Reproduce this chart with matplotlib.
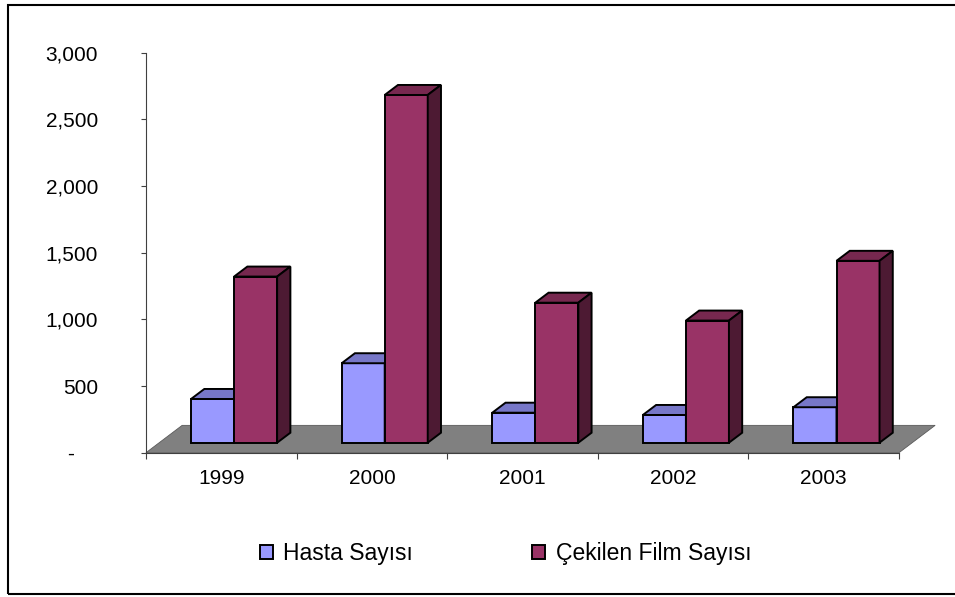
import matplotlib
matplotlib.use('Agg')
import matplotlib.pyplot as plt
from matplotlib.patches import Polygon, Patch, Rectangle
from matplotlib.ticker import FuncFormatter
from matplotlib.transforms import ScaledTranslation
import numpy as np

# data
years = ['1999', '2000', '2001', '2002', '2003']
hasta = [328, 596, 225, 208, 266]
cekilen = [1246, 2608, 1050, 916, 1364]
series_names = ['Hasta Sayısı', 'Çekilen Film Sayısı']

plt.rcParams['font.family'] = ['Liberation Sans', 'DejaVu Sans']

fig = plt.figure(figsize=(9.55, 5.97), dpi=100)
ax = fig.add_axes([146 / 955, 1 - 452.7 / 597, 753 / 955, 400 / 597])
ax.set_xlim(0, 5)
ax.set_ylim(0, 3000)

# oblique 3d offsets (category units, value units)
floor_dx, floor_dy = 0.24, 205
front_dx, front_dy = 0.085, 75
depth_dx, depth_dy = 0.088, 75
w = 1 / 3.5   # gap width 150%

# floor
n = len(years)
floor = Polygon([(0, 0), (n, 0), (n + floor_dx, floor_dy), (floor_dx, floor_dy)],
                closed=True, facecolor='#808080', edgecolor='#5a5a5a', lw=0.6,
                zorder=1, clip_on=False)
ax.add_patch(floor)

front_cols = ['#9999FF', '#993366']
top_cols = ['#7777C8', '#77284F']
side_cols = ['#5C5C99', '#4D1A33']

idx = np.arange(n)
for i in idx:
    for s, vals in enumerate([hasta, cekilen]):
        left = i + front_dx + 0.5 - w + s * w
        v = vals[i]
        z = 3 + i * 2 + s
        ax.bar(left, v, width=w, bottom=front_dy, align='edge',
               color=front_cols[s], edgecolor='black', lw=1.4, zorder=z)
        top = front_dy + v
        ax.add_patch(Polygon([(left, top), (left + w, top),
                              (left + w + depth_dx, top + depth_dy),
                              (left + depth_dx, top + depth_dy)],
                             closed=True, facecolor=top_cols[s], edgecolor='black',
                             lw=1.4, zorder=z, clip_on=False, joinstyle='miter'))
        ax.add_patch(Polygon([(left + w, front_dy), (left + w + depth_dx, front_dy + depth_dy),
                              (left + w + depth_dx, top + depth_dy), (left + w, top)],
                             closed=True, facecolor=side_cols[s], edgecolor='black',
                             lw=1.4, zorder=z, clip_on=False, joinstyle='miter'))

# axes styling
for sp in ['top', 'right']:
    ax.spines[sp].set_visible(False)
for sp in ['left', 'bottom']:
    ax.spines[sp].set_color('#404040')
    ax.spines[sp].set_linewidth(0.8)

ax.set_yticks(np.arange(0, 3001, 500))
ax.yaxis.set_major_formatter(FuncFormatter(lambda v, p: '-' if v == 0 else f'{v:,.0f}'))
ax.tick_params(axis='y', direction='out', length=3.6, width=0.8, color='#404040',
               pad=31, labelsize=15)

ax.set_xticks(np.arange(n + 1))
ax.set_xticklabels([])
ax.set_xticks(idx + 0.5, minor=True)
ax.set_xticklabels(years, minor=True)
ax.tick_params(axis='x', which='major', direction='out', length=4.3, width=0.8,
               color='#404040')
ax.tick_params(axis='x', which='minor', length=0, pad=12, labelsize=15)

# shift the zero label like the accounting format does
zl = ax.get_yticklabels()[0]
zl.set_transform(zl.get_transform() + ScaledTranslation(-0.24, 0, fig.dpi_scale_trans))

# legend
handles = [Patch(facecolor=front_cols[k], edgecolor='black', lw=1.4) for k in range(2)]
fig.legend(handles, series_names, loc='center', ncol=2, frameon=False, fontsize=16.5,
           bbox_to_anchor=(505.5 / 955, 1 - 553.5 / 597), handlelength=0.55,
           handleheight=0.6, handletextpad=0.47, columnspacing=5.2)

# outer frame (right edge falls outside the picture)
fig.patches.append(Rectangle((8 / 955, 1 - 594 / 597), 960 / 955, 589 / 597,
                             transform=fig.transFigure, fill=False,
                             edgecolor='black', lw=1.5, zorder=10))

fig.savefig('out.png', dpi=100)
